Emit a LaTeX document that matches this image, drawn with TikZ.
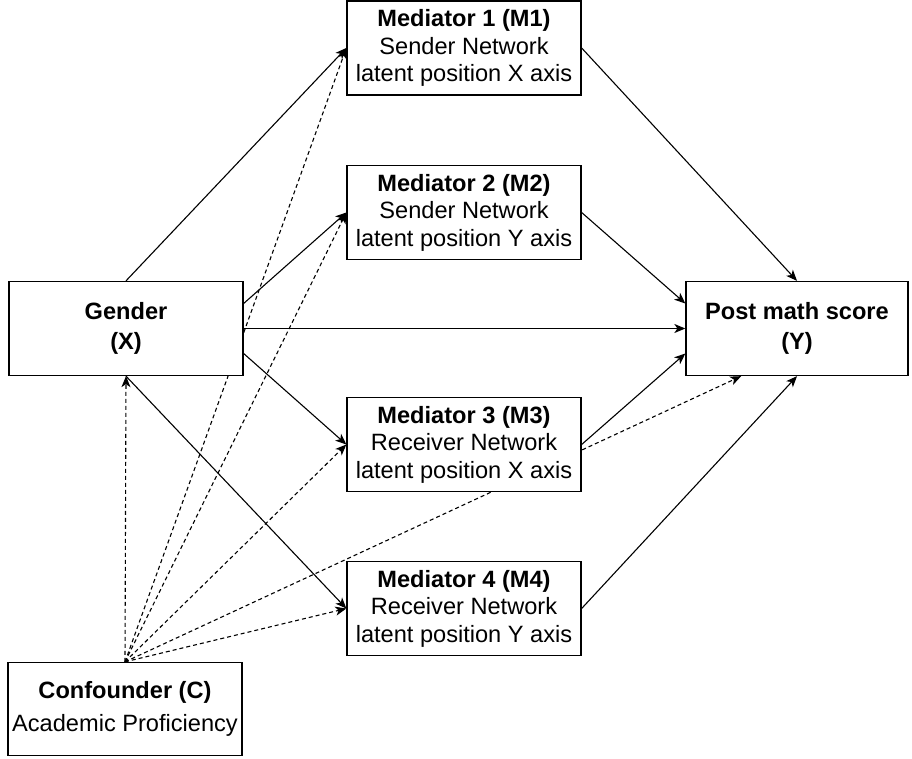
\documentclass[tikz,border=0pt]{standalone}
\usepackage{fontspec}
\setmainfont{Liberation Sans}
\usetikzlibrary{arrows.meta,calc}
\pgfdeclarelayer{bg}
\pgfsetlayers{bg,main}
\begin{document}
\begin{tikzpicture}[x=1pt,y=-1pt,
  box/.style={draw, line width=1.3pt, fill=white, inner sep=0pt, align=center,
    minimum width=234pt, minimum height=94pt, font=\fontsize{23.6}{27.5}\selectfont},
  conn/.style={line width=1.1pt, -{Stealth[length=11pt,width=9pt,inset=3pt]}},
  dconn/.style={conn, dash pattern=on 4pt off 3pt}]
\useasboundingbox (0,0) rectangle (912,759);
\node[box] (M1) at (464,48) {\textbf{Mediator 1 (M1)}\\Sender Network\\latent position X axis};
\node[box] (M2) at (464,212.5) {\textbf{Mediator 2 (M2)}\\Sender Network\\latent position Y axis};
\node[box] (M3) at (464,444.5) {\textbf{Mediator 3 (M3)}\\Receiver Network\\latent position X axis};
\node[box] (M4) at (464,608.5) {\textbf{Mediator 4 (M4)}\\Receiver Network\\latent position Y axis};
\node[box] (X) at (126,328.5) {\textbf{Gender}\\[3pt]\textbf{(X)}};
\node[box, minimum width=222pt] (Y) at (797,328.5) {\textbf{Post math score}\\[3pt]\textbf{(Y)}};
\node[box, minimum height=93pt] (C) at (125,709) {\textbf{Confounder (C)}\\[5pt]Academic Proficiency};
\begin{pgfonlayer}{bg}
\draw[conn] (X.north) -- (M1.west);
\draw[conn] ($(X.east)+(0,-25)$) -- (M2.west);
\draw[conn] (X.east) -- (Y.west);
\draw[conn] ($(X.east)+(0,25)$) -- (M3.west);
\draw[conn] (X.south) -- (M4.west);
\draw[conn] (M1.east) -- (Y.north);
\draw[conn] (M2.east) -- ($(Y.west)+(0,-25)$);
\draw[conn] (M3.east) -- ($(Y.west)+(0,25)$);
\draw[conn] (M4.east) -- (Y.south);
\draw[dconn] (C.north) -- (X.south);
\draw[dconn] (C.north) -- (M1.west);
\draw[dconn] (C.north) -- (M2.west);
\draw[dconn] (C.north) -- (M3.west);
\draw[dconn] (C.north) -- (M4.west);
\draw[dconn] (C.north) -- ($(Y.south)!0.5!(Y.south west)$);
\end{pgfonlayer}
\end{tikzpicture}
\end{document}
